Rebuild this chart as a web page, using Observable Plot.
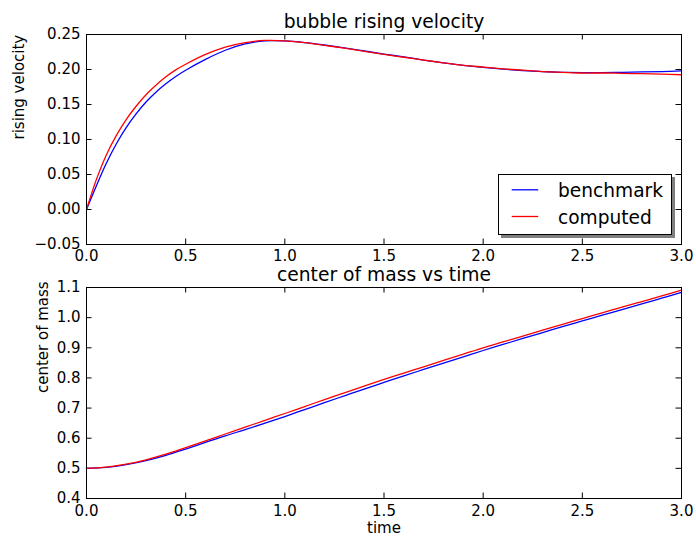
<!DOCTYPE html>
<html>
<head>
<meta charset="utf-8">
<script src="https://cdn.jsdelivr.net/npm/d3@7"></script>
<script src="https://cdn.jsdelivr.net/npm/@observablehq/plot@0.6"></script>
<style>
  body { margin: 0; background: #fff; }
  #fig { position: relative; width: 696px; height: 544px; font-family: "DejaVu Sans", sans-serif; background: #fff; }
  #fig svg { display: block; }
  #legend { position: absolute; left: 498px; top: 174px; width: 172px; height: 59px;
            border: 1px solid #000; background: #fff; box-shadow: 3px 3px 0 #808080; }
  #legend svg { position: absolute; left: 0; top: 0; overflow: visible; }
</style>
</head>
<body>
<div id="fig"></div>
<script>
// ---- data ----
const velTime = [0, 0.05, 0.1, 0.15, 0.2, 0.25, 0.3, 0.35, 0.4, 0.45, 0.5,
  0.6, 0.7, 0.8, 0.9, 1.0, 1.1, 1.2, 1.3, 1.4, 1.5, 1.6, 1.7, 1.8, 1.9, 2.0,
  2.1, 2.2, 2.3, 2.4, 2.5, 2.6, 2.7, 2.8, 2.9, 3.0];
const benchVel = [0, 0.034, 0.066, 0.0935, 0.117, 0.1365, 0.1535, 0.1675, 0.1795, 0.1900, 0.199,
  0.2145, 0.2275, 0.2365, 0.2410, 0.2408, 0.2385, 0.235, 0.231, 0.2265, 0.222, 0.218, 0.2135, 0.2095, 0.206, 0.203,
  0.2005, 0.1985, 0.197, 0.196, 0.1955, 0.1955, 0.196, 0.1965, 0.197, 0.198];
const compVel = [0, 0.043, 0.078, 0.1055, 0.1285, 0.1475, 0.1640, 0.1775, 0.1895, 0.1995, 0.2075,
  0.2215, 0.232, 0.2385, 0.2415, 0.2410, 0.2385, 0.2345, 0.2305, 0.226, 0.2215, 0.2175, 0.2135, 0.2095, 0.206, 0.2035,
  0.201, 0.199, 0.197, 0.196, 0.195, 0.195, 0.1945, 0.194, 0.1935, 0.1925];

const massTime = [0, 0.1, 0.2, 0.3, 0.4, 0.5, 0.6, 0.7, 0.8, 0.9, 1.0,
  1.1, 1.2, 1.3, 1.4, 1.5, 1.6, 1.7, 1.8, 1.9, 2.0,
  2.1, 2.2, 2.3, 2.4, 2.5, 2.6, 2.7, 2.8, 2.9, 3.0];
const benchMass = [0.5, 0.5033, 0.5123, 0.5257, 0.5430, 0.5640, 0.586, 0.608, 0.6285, 0.650, 0.672,
  0.695, 0.718, 0.7405, 0.763, 0.785, 0.807, 0.828, 0.849, 0.870, 0.891,
  0.911, 0.931, 0.9505, 0.970, 0.989, 1.008, 1.027, 1.0455, 1.0645, 1.0835];
const compMass = [0.5, 0.5038, 0.5138, 0.5285, 0.547, 0.569, 0.591, 0.614, 0.6365, 0.6595, 0.682,
  0.705, 0.728, 0.7505, 0.773, 0.795, 0.816, 0.837, 0.858, 0.879, 0.900,
  0.9195, 0.939, 0.9585, 0.978, 0.997, 1.016, 1.035, 1.0535, 1.072, 1.091];

const xTicks = [0, 0.5, 1.0, 1.5, 2.0, 2.5, 3.0];
const velTicks = [-0.05, 0, 0.05, 0.10, 0.15, 0.20, 0.25];
const massTicks = [0.4, 0.5, 0.6, 0.7, 0.8, 0.9, 1.0, 1.1];

const seriesNames = ["benchmark", "computed"];
const seriesColors = ["#0000ff", "#ff0000"];

const titles = ["bubble rising velocity", "center of mass vs time"];
const yLabels = ["rising velocity", "center of mass"];
const xLabel = "time";

// ---- panels ----
function panel({height, marginTop, marginBottom, yDomain, yTicks, yFormat, tx, series, title, titleDy, yLabel, yLabelDx, xLabelText, xPad}) {
  const W = 696, mL = 86, mR = 15;
  const innerH = height - marginTop - marginBottom;
  const innerW = W - mL - mR;
  const tick = 5.5;
  const marks = [
    Plot.ruleX(xTicks, {stroke: "#000", strokeWidth: 1, insetTop: innerH - tick}),
    Plot.ruleX(xTicks, {stroke: "#000", strokeWidth: 1, insetBottom: innerH - tick}),
    Plot.ruleY(yTicks, {stroke: "#000", strokeWidth: 1, insetRight: innerW - tick}),
    Plot.ruleY(yTicks, {stroke: "#000", strokeWidth: 1, insetLeft: innerW - tick}),
    Plot.axisX({ticks: xTicks, tickSize: 0, tickPadding: xPad, tickFormat: d3.format(".1f"), label: null, fontSize: 15}),
    Plot.axisY({ticks: yTicks, tickSize: 0, tickPadding: 6, tickFormat: d3.format(yFormat), label: null, fontSize: 15}),
  ];
  series.forEach((vals, i) => {
    marks.push(Plot.line(tx, {x: d => d, y: (d, j) => vals[j], stroke: seriesColors[i], strokeWidth: 1.3, curve: "catmull-rom"}));
  });
  marks.push(Plot.frame({stroke: "#000", strokeWidth: 1}));
  marks.push(Plot.text([title], {text: d => d, frameAnchor: "top", lineAnchor: "bottom", dy: titleDy, fontSize: 18.7, fill: "#000"}));
  marks.push(Plot.text([yLabel], {text: d => d, frameAnchor: "left", rotate: -90, dx: yLabelDx, fontSize: 15, fill: "#000"}));
  if (xLabelText) marks.push(Plot.text([xLabelText], {text: d => d, frameAnchor: "bottom", dy: 34, fontSize: 15, fill: "#000"}));
  return Plot.plot({
    width: W, height, marginLeft: mL, marginRight: mR, marginTop, marginBottom,
    style: {fontFamily: "DejaVu Sans, sans-serif", fontSize: "15px", background: "#fff", color: "#000", overflow: "visible"},
    x: {domain: [0, 3]},
    y: {domain: yDomain},
    marks
  });
}

const fig = document.getElementById("fig");
fig.appendChild(panel({
  height: 264, marginTop: 34, marginBottom: 20,
  yDomain: [-0.05, 0.25], yTicks: velTicks, yFormat: ".2f",
  tx: velTime, series: [benchVel, compVel],
  title: titles[0], titleDy: -7, yLabel: yLabels[0], yLabelDx: -67, xLabelText: null, xPad: 6
}));
fig.appendChild(panel({
  height: 280, marginTop: 23, marginBottom: 46,
  yDomain: [0.4, 1.1], yTicks: massTicks, yFormat: ".1f",
  tx: massTime, series: [benchMass, compMass],
  title: titles[1], titleDy: -6.5, yLabel: yLabels[1], yLabelDx: -43.5, xLabelText: xLabel, xPad: 6.5
}));

// ---- legend ----
const leg = document.createElement("div");
leg.id = "legend";
const ns = "http://www.w3.org/2000/svg";
const lsvg = document.createElementNS(ns, "svg");
lsvg.setAttribute("width", 172); lsvg.setAttribute("height", 59);
seriesNames.forEach((name, i) => {
  const cy = 14.8 + i * 26.7;
  const ln = document.createElementNS(ns, "line");
  ln.setAttribute("x1", 12.7); ln.setAttribute("x2", 39.2);
  ln.setAttribute("y1", cy); ln.setAttribute("y2", cy);
  ln.setAttribute("stroke", seriesColors[i]); ln.setAttribute("stroke-width", 1.3);
  lsvg.appendChild(ln);
  const tx = document.createElementNS(ns, "text");
  tx.setAttribute("x", 59); tx.setAttribute("y", cy + 7.5);
  tx.setAttribute("font-family", "DejaVu Sans, sans-serif");
  tx.setAttribute("font-size", 18.6);
  tx.setAttribute("fill", "#000");
  tx.textContent = name;
  lsvg.appendChild(tx);
});
leg.appendChild(lsvg);
fig.appendChild(leg);
</script>
</body>
</html>
